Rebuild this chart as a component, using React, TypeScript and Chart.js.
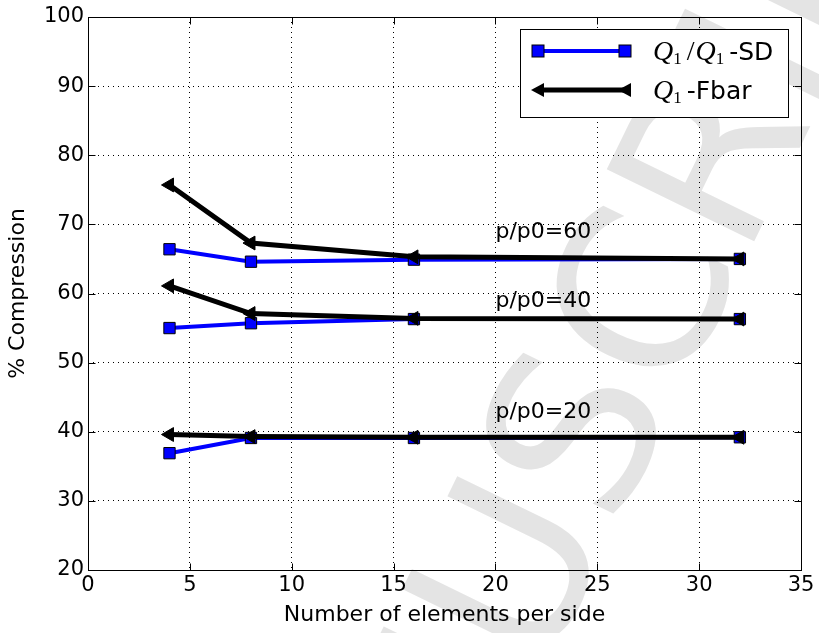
import React, { useEffect, useRef } from 'react';
import { Chart, registerables } from 'chart.js';

Chart.register(...registerables);

// ---- data ----
const xValues = [4, 8, 16, 32];
const sd60 = [66.4, 64.6, 64.9, 65.0];
const fbar60 = [75.7, 67.3, 65.3, 65.0];
const sd40 = [55.0, 55.7, 56.3, 56.3];
const fbar40 = [61.1, 57.1, 56.4, 56.3];
const sd20 = [36.9, 39.1, 39.1, 39.2];
const fbar20 = [39.6, 39.3, 39.2, 39.2];

const annoLabels = ['p/p0=60', 'p/p0=40', 'p/p0=20'];
const annoX = [20, 20, 20];
const annoY = [68, 58, 42];

const xTitle = 'Number of elements per side';
const yTitle = '% Compression';
const watermark = 'MANUSCRIPT';

const SANS = "'DejaVu Sans', 'Bitstream Vera Sans', sans-serif";
const SERIF = "'Liberation Serif', 'DejaVu Serif', serif";
const BLUE = '#0000ff';

const pts = (ys: number[]) => xValues.map((x, i) => ({ x, y: ys[i] }));

const sdStyle = {
  borderColor: BLUE,
  backgroundColor: BLUE,
  borderWidth: 4,
  pointStyle: 'rect' as const,
  pointRadius: 8,
  pointBackgroundColor: BLUE,
  pointBorderColor: '#000',
  pointBorderWidth: 1,
  tension: 0,
  order: 1,
};
const fbarStyle = {
  borderColor: '#000',
  backgroundColor: '#000',
  borderWidth: 5,
  pointStyle: 'triangle' as const,
  pointRotation: -90,
  pointRadius: 8,
  pointBackgroundColor: '#000',
  pointBorderColor: '#000',
  pointBorderWidth: 1,
  tension: 0,
  order: 0,
};

const watermarkPlugin = {
  id: 'watermark',
  beforeDraw(chart: any) {
    const ctx = chart.ctx;
    ctx.save();
    ctx.translate(262, 1117);
    ctx.rotate((-64 * Math.PI) / 180);
    ctx.font = `225px ${SANS}`;
    ctx.fillStyle = '#e4e4e4';
    ctx.textAlign = 'left';
    ctx.textBaseline = 'middle';
    ctx.fillText(watermark, 0, 0);
    ctx.restore();
  },
};

const framePlugin = {
  id: 'frame',
  afterDatasetsDraw(chart: any) {
    const ctx = chart.ctx;
    const { left, right, top, bottom } = chart.chartArea;
    const xs = chart.scales.x;
    const ys = chart.scales.y;
    const L = Math.round(left) + 0.5;
    const R = Math.round(right) + 0.5;
    const T = Math.round(top) + 0.5;
    const B = Math.round(bottom) + 0.5;
    ctx.save();
    ctx.strokeStyle = '#000';
    ctx.lineWidth = 1;
    ctx.setLineDash([]);
    ctx.strokeRect(L, T, R - L, B - T);
    const tl = 7;
    ctx.beginPath();
    xs.ticks.forEach((t: any) => {
      const px = Math.round(xs.getPixelForValue(t.value)) + 0.5;
      ctx.moveTo(px, B);
      ctx.lineTo(px, B - tl);
      ctx.moveTo(px, T);
      ctx.lineTo(px, T + tl);
    });
    ys.ticks.forEach((t: any) => {
      const py = Math.round(ys.getPixelForValue(t.value)) + 0.5;
      ctx.moveTo(L, py);
      ctx.lineTo(L + tl, py);
      ctx.moveTo(R, py);
      ctx.lineTo(R - tl, py);
    });
    ctx.stroke();

    // annotations
    ctx.fillStyle = '#000';
    ctx.font = `22px ${SANS}`;
    ctx.textAlign = 'left';
    ctx.textBaseline = 'alphabetic';
    annoLabels.forEach((s, i) => {
      ctx.fillText(s, xs.getPixelForValue(annoX[i]), ys.getPixelForValue(annoY[i]));
    });
    ctx.restore();
  },
};

function drawMath(ctx: CanvasRenderingContext2D, parts: { t: string; k: string }[], x: number, y: number) {
  let cx = x;
  parts.forEach((p) => {
    let dy = 0;
    let extra = 0;
    if (p.k === 'q') ctx.font = `italic 28px ${SERIF}`;
    else if (p.k === 'sub') {
      ctx.font = `17px ${SERIF}`;
      dy = 4;
      extra = 5;
    } else if (p.k === 'slash') {
      ctx.font = `28px ${SERIF}`;
      extra = 1;
    } else ctx.font = `25px ${SANS}`;
    ctx.fillText(p.t, cx, y + dy);
    cx += ctx.measureText(p.t).width + extra;
  });
}

const legendPlugin = {
  id: 'customLegend',
  afterDraw(chart: any) {
    const ctx = chart.ctx;
    ctx.save();
    const bx = 520.5, by = 29.5, bw = 268, bh = 88;
    ctx.fillStyle = '#fff';
    ctx.fillRect(bx, by, bw, bh);
    ctx.strokeStyle = '#000';
    ctx.lineWidth = 1;
    ctx.strokeRect(bx, by, bw, bh);

    const x0 = 538, x1 = 625;
    const y1 = 51, y2 = 90;
    // row 1
    ctx.strokeStyle = BLUE;
    ctx.lineWidth = 4;
    ctx.beginPath();
    ctx.moveTo(x0, y1);
    ctx.lineTo(x1, y1);
    ctx.stroke();
    [x0, x1].forEach((cx) => {
      ctx.fillStyle = BLUE;
      ctx.fillRect(cx - 6, y1 - 6, 12, 12);
      ctx.strokeStyle = '#000';
      ctx.lineWidth = 1;
      ctx.strokeRect(cx - 6, y1 - 6, 12, 12);
    });
    // row 2
    ctx.strokeStyle = '#000';
    ctx.lineWidth = 5;
    ctx.beginPath();
    ctx.moveTo(x0, y2);
    ctx.lineTo(x1, y2);
    ctx.stroke();
    ctx.fillStyle = '#000';
    [x0, x1].forEach((cx) => {
      ctx.beginPath();
      ctx.moveTo(cx - 7, y2);
      ctx.lineTo(cx + 6, y2 - 7);
      ctx.lineTo(cx + 6, y2 + 7);
      ctx.closePath();
      ctx.fill();
    });

    ctx.fillStyle = '#000';
    ctx.textAlign = 'left';
    ctx.textBaseline = 'alphabetic';
    drawMath(
      ctx,
      [
        { t: 'Q', k: 'q' },
        { t: '1', k: 'sub' },
        { t: '/', k: 'slash' },
        { t: 'Q', k: 'q' },
        { t: '1', k: 'sub' },
        { t: '-SD', k: 'txt' },
      ],
      653,
      y1 + 9
    );
    drawMath(
      ctx,
      [
        { t: 'Q', k: 'q' },
        { t: '1', k: 'sub' },
        { t: '-Fbar', k: 'txt' },
      ],
      653,
      y2 + 9
    );
    ctx.restore();
  },
};

export default function App() {
  const ref = useRef<HTMLCanvasElement | null>(null);
  useEffect(() => {
    if (!ref.current) return;
    const chart = new Chart(ref.current, {
      type: 'line',
      data: {
        datasets: [
          { label: 'Q1/Q1-SD p/p0=60', data: pts(sd60), ...sdStyle },
          { label: 'Q1/Q1-SD p/p0=40', data: pts(sd40), ...sdStyle },
          { label: 'Q1/Q1-SD p/p0=20', data: pts(sd20), ...sdStyle },
          { label: 'Q1-Fbar p/p0=60', data: pts(fbar60), ...fbarStyle },
          { label: 'Q1-Fbar p/p0=40', data: pts(fbar40), ...fbarStyle },
          { label: 'Q1-Fbar p/p0=20', data: pts(fbar20), ...fbarStyle },
        ] as any,
      },
      options: {
        animation: false,
        responsive: true,
        maintainAspectRatio: false,
        layout: { padding: { top: 17, right: 18, left: 0, bottom: 0 } },
        plugins: { legend: { display: false }, tooltip: { enabled: false } },
        scales: {
          x: {
            type: 'linear',
            min: 0,
            max: 35,
            ticks: { stepSize: 5, color: '#000', font: { family: SANS, size: 21 }, padding: 3, maxRotation: 0 },
            grid: { color: '#000', lineWidth: 1, drawTicks: false },
            border: { display: false, dash: [1, 4] },
            title: {
              display: true,
              text: xTitle,
              color: '#000',
              font: { family: SANS, size: 22 },
              padding: { top: 0, bottom: 5 },
            },
            afterFit: (s: any) => {
              s.height = 63;
            },
          },
          y: {
            type: 'linear',
            min: 20,
            max: 100,
            ticks: { stepSize: 10, color: '#000', font: { family: SANS, size: 21 }, padding: 4 },
            grid: { color: '#000', lineWidth: 1, drawTicks: false },
            border: { display: false, dash: [1, 4] },
            title: {
              display: true,
              text: yTitle,
              color: '#000',
              font: { family: SANS, size: 22 },
              padding: { top: 5, bottom: 0 },
            },
            afterFit: (s: any) => {
              s.width = 88;
            },
          },
        },
      },
      plugins: [watermarkPlugin, framePlugin, legendPlugin],
    });
    return () => chart.destroy();
  }, []);
  return (
    <div style={{ position: 'absolute', left: 0, top: 0, width: 819, height: 633 }}>
      <canvas ref={ref} />
    </div>
  );
}
